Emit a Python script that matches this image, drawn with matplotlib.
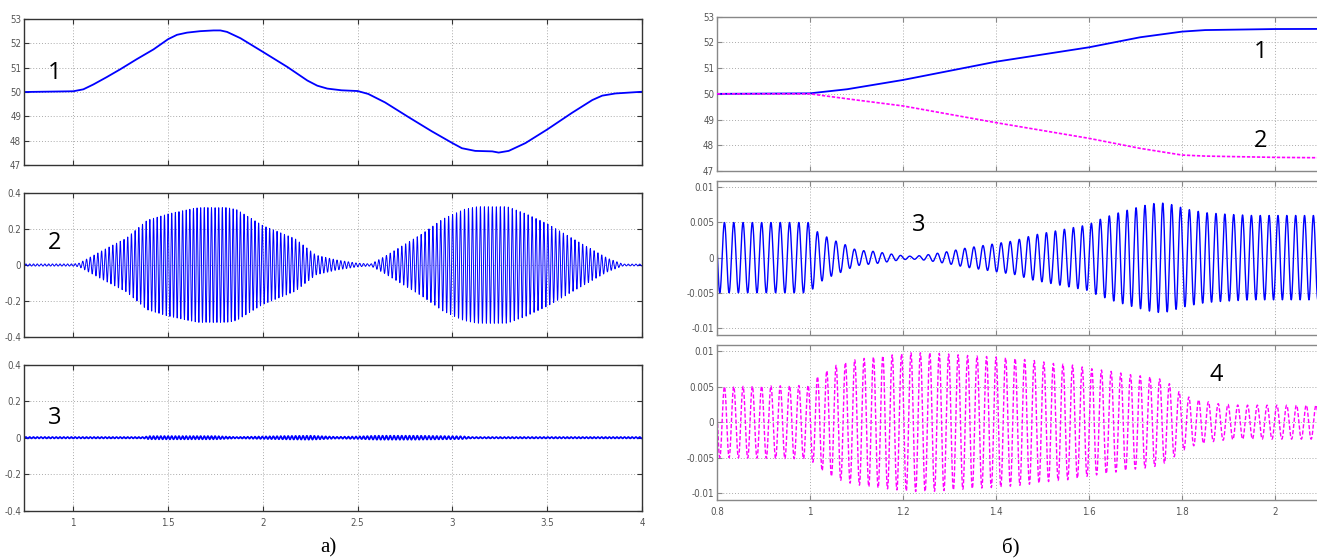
import numpy as np
import matplotlib
matplotlib.use("Agg")
import matplotlib.pyplot as plt

# ---------------- panel a) ----------------
# curve 1: frequency, Hz
a1_t = [0.74, 1.0, 1.053, 1.106, 1.176, 1.247, 1.335, 1.423, 1.5, 1.547, 1.6, 1.67, 1.74, 1.776,
        1.811, 1.882, 2.0, 2.129, 2.235, 2.287, 2.34, 2.415, 2.5, 2.556, 2.645, 2.768, 2.89, 3.0,
        3.05, 3.12, 3.21, 3.244, 3.297, 3.385, 3.5, 3.632, 3.738, 3.79, 3.86, 4.0]
a1_f = [50.0, 50.03, 50.11, 50.31, 50.61, 50.93, 51.35, 51.75, 52.17, 52.35, 52.44, 52.5, 52.53, 52.53,
        52.47, 52.21, 51.65, 51.03, 50.47, 50.26, 50.14, 50.07, 50.04, 49.92, 49.57, 48.97, 48.39, 47.9,
        47.69, 47.58, 47.56, 47.51, 47.58, 47.9, 48.46, 49.15, 49.67, 49.85, 49.94, 50.01]

# curve 2: oscillation envelope
a2_t = [0.74, 1.0, 1.03, 1.17, 1.28, 1.39, 1.5, 1.61, 1.66, 1.81, 1.86, 2.0, 2.17, 2.28,
        2.39, 2.5, 2.57, 2.64, 2.84, 2.95, 3.06, 3.13, 3.29, 3.39, 3.5, 3.68, 3.82, 3.9, 4.0]
a2_amp = [0.006, 0.006, 0.01, 0.09, 0.15, 0.25, 0.285, 0.31, 0.32, 0.32, 0.31, 0.22, 0.147, 0.055,
          0.028, 0.01, 0.006, 0.046, 0.174, 0.257, 0.31, 0.325, 0.325, 0.285, 0.23, 0.12, 0.037, 0.005, 0.005]

# curve 3: residual oscillation envelope
a3_t = [0.74, 1.37, 1.4, 1.75, 1.86, 1.95, 2.1, 2.25, 2.39, 2.5, 2.6, 2.8, 3.05, 3.1, 4.0]
a3_amp = [0.004, 0.004, 0.009, 0.009, 0.004, 0.006, 0.009, 0.011, 0.005, 0.007, 0.011, 0.011, 0.008, 0.004, 0.004]

a_xticks = [1, 1.5, 2, 2.5, 3, 3.5, 4]
a_xlabels = ["1", "1.5", "2", "2.5", "3", "3.5", "4"]
a1_yticks = [47, 48, 49, 50, 51, 52, 53]
a2_yticks = [-0.4, -0.2, 0, 0.2, 0.4]
a2_ylabels = ["-0.4", "-0.2", "0", "0.2", "0.4"]

# ---------------- panel б) ----------------
b1_t = [0.8, 1.0, 1.08, 1.2, 1.31, 1.4, 1.6, 1.71, 1.8, 1.85, 2.0, 2.2]
b1_f = [50.0, 50.02, 50.18, 50.54, 50.93, 51.25, 51.81, 52.2, 52.42, 52.48, 52.52, 52.53]
b2_t = [0.8, 1.0, 1.1, 1.2, 1.4, 1.6, 1.71, 1.8, 1.85, 2.0, 2.2]
b2_f = [50.0, 50.0, 49.76, 49.53, 48.88, 48.27, 47.88, 47.62, 47.58, 47.53, 47.5]

b3_t = [0.8, 1.0, 1.013, 1.034, 1.054, 1.074, 1.096, 1.115, 1.136, 1.156, 1.176, 1.197, 1.217,
        1.24, 1.262, 1.3, 1.33, 1.36, 1.4, 1.44, 1.48, 1.52, 1.56, 1.6, 1.614, 1.65, 1.69, 1.73,
        1.75, 1.77, 1.81, 1.85, 1.89, 1.95, 2.2]
b3_amp = [0.005, 0.005, 0.0038, 0.003, 0.0024, 0.0019, 0.0012, 0.001, 0.0009, 0.0007, 0.0005, 0.0003, 0.0002,
          0.0003, 0.0005, 0.0009, 0.0013, 0.0016, 0.002, 0.0024, 0.0032, 0.0037, 0.0042, 0.0047, 0.0052, 0.0061,
          0.0069, 0.0076, 0.0078, 0.0077, 0.0069, 0.0064, 0.0062, 0.006, 0.006]

b4_t = [0.8, 1.0, 1.017, 1.055, 1.095, 1.136, 1.177, 1.217, 1.262, 1.303, 1.343, 1.402, 1.442, 1.483,
        1.523, 1.562, 1.6, 1.645, 1.69, 1.731, 1.753, 1.774, 1.794, 1.816, 1.839, 1.879, 1.924, 2.2]
b4_amp = [0.005, 0.0052, 0.0065, 0.008, 0.0088, 0.0092, 0.0095, 0.0098, 0.0098, 0.0096, 0.0094, 0.0092,
          0.009, 0.0087, 0.0083, 0.0081, 0.0076, 0.0072, 0.0067, 0.0064, 0.0061, 0.0054, 0.0043, 0.0035,
          0.0031, 0.0026, 0.0024, 0.0024]

b_xticks = [0.8, 1.0, 1.2, 1.4, 1.6, 1.8, 2.0]
b_xlabels = ["0.8", "1", "1.2", "1.4", "1.6", "1.8", "2"]
b3_yticks = [-0.01, -0.005, 0, 0.005, 0.01]
b3_ylabels = ["-0.01", "-0.005", "0", "0.005", "0.01"]

W, H = 1317, 560


def rect(x0, top, x1, bottom):
    return [x0 / W, 1 - bottom / H, (x1 - x0) / W, (bottom - top) / H]


def osc(t_pts, amp_pts, f_t, f_val, t0, t1, t_peak):
    t = np.arange(t0, t1, 0.0002)
    f = np.interp(t, f_t, f_val)
    ph = 2 * np.pi * np.cumsum(f) * 0.0002
    ph -= np.interp(t_peak, t, ph)
    return t, np.interp(t, t_pts, amp_pts) * np.cos(ph)


def style(ax, spine_col, tick_col):
    for s in ax.spines.values():
        s.set_color(spine_col)
        s.set_linewidth(1.0)
    ax.tick_params(direction="in", length=3.5, width=0.8, color=tick_col,
                   top=True, right=True, labelsize=7, labelcolor="#555555", pad=2)
    ax.grid(True, color="#aaaaaa", linestyle=(0, (1, 2)), linewidth=0.7)
    for lab in ax.get_xticklabels() + ax.get_yticklabels():
        lab.set_family("DejaVu Sans")
        lab.set_stretch("condensed")


fig = plt.figure(figsize=(W / 100, H / 100), dpi=100)

# ---- a) ----
ax1 = fig.add_axes(rect(24, 19, 642, 165))
ax2 = fig.add_axes(rect(24, 193.3, 642, 336.7))
ax3 = fig.add_axes(rect(24, 364.7, 642, 510.7))

ax1.plot(a1_t, a1_f, color="#0000ff", lw=1.3)
ax1.set_ylim(47, 53)
ax1.set_yticks(a1_yticks)

t2, y2 = osc(a2_t, a2_amp, a1_t, a1_f, 0.74, 4.0, 0.75)
ax2.plot(t2, y2, color="#0000ff", lw=0.7)
t3, y3 = osc(a3_t, a3_amp, a1_t, a1_f, 0.74, 4.0, 0.75)
ax3.plot(t3, y3, color="#0000ff", lw=1.2)

for ax in (ax2, ax3):
    ax.set_ylim(-0.4, 0.4)
    ax.set_yticks(a2_yticks)
    ax.set_yticklabels(a2_ylabels)

for ax in (ax1, ax2, ax3):
    ax.set_xlim(0.74, 4.0)
    ax.set_xticks(a_xticks)
    ax.set_xticklabels(a_xlabels if ax is ax3 else [])
    style(ax, "#333333", "#333333")
ax3.tick_params(axis="x", pad=5)

num_font = dict(family=["Open Sans", "DejaVu Sans"], fontsize=17, color="black",
                ha="center", va="center")
ax1.text(0.90, 50.78, "1", **num_font)
ax2.text(0.90, 0.124, "2", **num_font)
ax3.text(0.90, 0.11, "3", **num_font)

# ---- б) ----
bx_right = 717 + 465 * (2.2 - 0.8)
bx1 = fig.add_axes(rect(717, 16.7, bx_right, 171))
bx2 = fig.add_axes(rect(717, 181, bx_right, 335))
bx3 = fig.add_axes(rect(717, 345, bx_right, 500))

bx1.plot(b1_t, b1_f, color="#0000ff", lw=1.3, zorder=3)
bx1.plot(b2_t, b2_f, color="#ff00ff", lw=1.2, linestyle=(0, (2, 1)), zorder=3)
bx1.set_ylim(47, 53)
bx1.set_yticks(a1_yticks)

t5, y5 = osc(b3_t, b3_amp, b1_t, b1_f, 0.8, 2.2, 0.816)
bx2.plot(t5, y5, color="#0000ff", lw=1.0)
t6, y6 = osc(b4_t, b4_amp, b2_t, b2_f, 0.8, 2.2, 0.816)
bx3.plot(t6, y6, color="#ff00ff", lw=1.0, linestyle=(0, (3, 1.5)))

bx2.set_ylim(-0.0110, 0.0109)
bx3.set_ylim(-0.0110, 0.0109)
for ax in (bx2, bx3):
    ax.set_yticks(b3_yticks)
    ax.set_yticklabels(b3_ylabels)

for ax in (bx1, bx2, bx3):
    ax.set_xlim(0.8, 2.2)
    ax.set_xticks(b_xticks)
    ax.set_xticklabels(b_xlabels if ax is bx3 else [])
    style(ax, "#888888", "#888888")
bx3.tick_params(axis="x", pad=5)

bx1.text(1.97, 51.64, "1", **num_font)
bx1.text(1.97, 48.16, "2", **num_font)
bx2.text(1.234, 0.0046, "3", **num_font)
bx3.text(1.873, 0.0066, "4", **num_font)

lab_font = dict(family=["Liberation Serif", "DejaVu Serif"], fontsize=15,
                ha="center", va="center")
fig.text(328 / W, 1 - 548 / H, "a)", **lab_font)
fig.text(1011 / W, 1 - 548 / H, "б)", **lab_font)

fig.savefig("out.png", dpi=100)
